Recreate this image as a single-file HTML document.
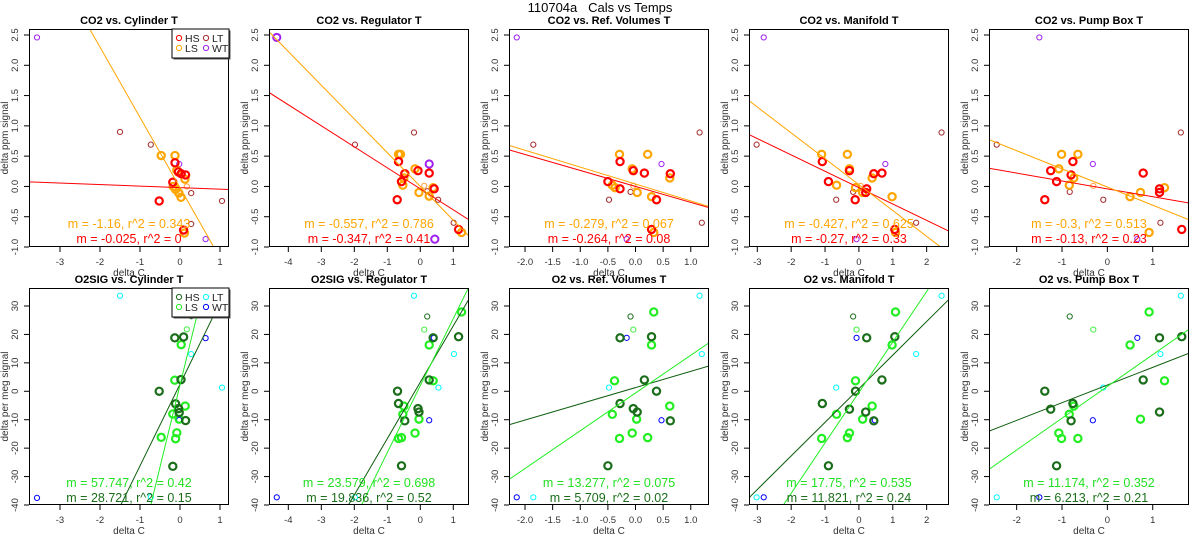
<!DOCTYPE html>
<html><head><meta charset="utf-8"><style>
html,body{margin:0;padding:0;background:#fff;overflow:hidden;width:1200px;height:550px}
svg{display:block;font-family:"Liberation Sans",Arial,sans-serif}
</style></head><body>
<svg id="chart" width="1200" height="550" viewBox="0 0 1200 550" xmlns="http://www.w3.org/2000/svg">
<text x="600" y="12" text-anchor="middle" font-size="13" style="white-space:pre" xml:space="preserve">110704a   Cals vs Temps</text>
</svg>
<script>
// ---- axis domains (x in delta C) ----
const panelTitlesTop = ["CO2 vs. Cylinder T","CO2 vs. Regulator T","CO2 vs. Ref. Volumes T","CO2 vs. Manifold T","CO2 vs. Pump Box T"];
const panelTitlesBot = ["O2SIG vs. Cylinder T","O2SIG vs. Regulator T","O2 vs. Ref. Volumes T","O2 vs. Manifold T","O2 vs. Pump Box T"];
const xDomains = [[-3.775,1.225],[-4.585,1.476],[-2.29,1.33],[-3.245,2.66],[-2.61,1.80]];
const xTicks = [[-3,-2,-1,0,1],[-4,-3,-2,-1,0,1],[-2,-1.5,-1,-0.5,0,0.5,1],[-3,-2,-1,0,1,2],[-2,-1,0,1]];
const xTickLabels = [["-3","-2","-1","0","1"],["-4","-3","-2","-1","0","1"],["-2.0","-1.5","-1.0","-0.5","0.0","0.5","1.0"],["-3","-2","-1","0","1","2"],["-2","-1","0","1"]];
const yTicksTop = [-1,-0.5,0,0.5,1,1.5,2,2.5];
const yTickLabelsTop = ["-1.0","-0.5","0.0","0.5","1.0","1.5","2.0","2.5"];
const yTicksBot = [-40,-30,-20,-10,0,10,20,30];
const yTickLabelsBot = ["-40","-30","-20","-10","0","10","20","30"];

// ---- CO2 (top row) points [deltaC, delta ppm] ----
const topHS = [
 [[-0.125,0.39],[-0.04,0.24],[0.03,0.21],[0.14,0.19],[-0.18,0.07],[-0.52,-0.24],[0.09,-0.72]],
 [[-0.66,0.41],[-0.47,0.21],[-0.07,0.26],[0.27,0.22],[-0.57,0.08],[-0.70,-0.22],[1.16,-0.71],[0.42,-0.04]],
 [[-0.28,0.41],[-0.04,0.26],[0.16,0.22],[0.63,0.21],[-0.5,0.08],[0.38,-0.22],[0.29,-0.71],[-0.28,-0.04]],
 [[-1.08,0.41],[-0.28,0.26],[0.44,0.21],[0.68,0.22],[-0.9,0.08],[-0.11,-0.22],[1.06,-0.71],[0.23,-0.04],[0.2,-0.1]],
 [[-0.76,0.41],[-1.25,0.26],[0.79,0.22],[-1.12,0.08],[-0.8,0.19],[-1.38,-0.22],[1.64,-0.71],[1.15,-0.04],[1.15,-0.1]]
];
const topLS = [
 [[-0.47,0.51],[-0.125,0.51],[-0.08,0.27],[0.125,0.12],[-0.17,0.0],[-0.11,-0.05],[-0.03,-0.11],[0.025,-0.18],[0.11,-0.77]],
 [[-0.66,0.53],[-0.6,0.53],[-0.16,0.29],[-0.5,0.14],[-0.53,0.02],[-0.04,-0.1],[0.39,-0.02],[0.27,-0.16],[1.25,-0.76]],
 [[-0.29,0.53],[0.22,0.53],[-0.06,0.29],[0.62,0.14],[-0.42,0.02],[-0.37,-0.02],[0.03,-0.1],[0.29,-0.17],[0.33,-0.76]],
 [[-1.1,0.53],[-0.34,0.53],[-0.28,0.29],[0.39,0.14],[-0.66,0.02],[-0.1,-0.02],[0.11,-0.1],[0.98,-0.17],[1.08,-0.76]],
 [[-1.01,0.53],[-0.65,0.53],[-1.07,0.29],[-0.74,0.14],[-0.84,0.02],[1.26,-0.02],[0.73,-0.1],[0.5,-0.17],[0.92,-0.76]]
];
const topLT = [
 [[-1.5,0.9],[-0.73,0.69],[0.28,-0.11],[1.05,-0.24],[0.28,-0.62]],
 [[-1.98,0.69],[-0.19,0.89],[0.54,-0.22],[1.01,-0.6],[0.21,-0.08]],
 [[-1.85,0.69],[1.16,0.89],[-0.48,-0.22],[1.2,-0.6],[-0.09,-0.09]],
 [[-3.02,0.69],[2.44,0.89],[-0.67,-0.22],[1.69,-0.6],[-0.17,-0.09]],
 [[-2.44,0.69],[1.62,0.89],[-0.09,-0.22],[1.17,-0.6],[-0.83,-0.09]]
];
const topWT = [
 [[-3.575,2.46],[-0.02,0.37],[0.64,-0.87]],
 [[-4.35,2.46],[0.27,0.37],[0.44,-0.87]],
 [[-2.15,2.46],[0.47,0.37],[-0.16,-0.87]],
 [[-2.81,2.46],[0.78,0.37],[-0.07,-0.87]],
 [[-1.5,2.46],[-0.32,0.37],[0.66,-0.87]]
];
const topExtra = [[0.17,0.0],[0.12,0.01],[-0.04,0.01],[0.05,0.01],[-0.31,0.01]];
const topSlopeHS = [-0.025,-0.347,-0.264,-0.27,-0.13];
const topIcptHS = [-0.02,-0.04,0.0,-0.02,-0.04];
const topSlopeLS = [-1.16,-0.557,-0.279,-0.427,-0.3];
const topIcptLS = [-0.02,0.0,0.04,0.03,-0.01];
const topTextLS = ["m = -1.16, r^2 = 0.343","m = -0.557, r^2 = 0.786","m = -0.279, r^2 = 0.067","m = -0.427, r^2 = 0.625","m = -0.3, r^2 = 0.513"];
const topTextHS = ["m = -0.025, r^2 = 0","m = -0.347, r^2 = 0.41","m = -0.264, r^2 = 0.08","m = -0.27, r^2 = 0.33","m = -0.13, r^2 = 0.23"];

// ---- O2 (bottom row) points [deltaC, delta per meg] ----
const botHS = [
 [[-0.13,18.8],[0.09,19.1],[0.025,4.1],[-0.52,0],[-0.11,-4.4],[-0.04,-6.1],[-0.02,-7.5],[0.14,-10.3],[-0.18,-26.4]],
 [[0.39,18.8],[1.16,19.2],[0.27,4.0],[-0.69,0.05],[-0.66,-4.3],[-0.07,-6.1],[-0.04,-7.3],[-0.47,-10.4],[-0.57,-26.2]],
 [[-0.28,18.8],[0.29,19.2],[0.16,4.0],[0.38,0.05],[-0.28,-4.3],[-0.04,-6.1],[0.03,-7.3],[0.63,-10.4],[-0.5,-26.2]],
 [[0.23,18.8],[1.06,19.2],[0.68,4.0],[-0.1,0.05],[-1.08,-4.3],[-0.28,-6.3],[0.2,-7.3],[0.44,-10.4],[-0.9,-26.2]],
 [[1.15,18.8],[1.64,19.2],[0.79,4.0],[-1.38,0.05],[-0.76,-4.3],[-1.25,-6.3],[1.15,-7.3],[-0.8,-10.4],[-1.12,-26.2]]
];
const botLS = [
 [[0.35,27.9],[0.03,16.4],[-0.13,3.9],[0.13,-5.2],[-0.18,-8.0],[-0.02,-9.8],[-0.08,-14.6],[-0.47,-16.2],[-0.11,-16.7]],
 [[1.25,27.9],[0.27,16.3],[0.39,3.7],[-0.5,-5.2],[-0.53,-8.1],[-0.04,-9.8],[-0.16,-14.7],[-0.66,-16.6],[-0.57,-16.3]],
 [[0.33,27.9],[0.29,16.3],[-0.38,3.7],[0.62,-5.2],[-0.42,-8.1],[0.02,-9.8],[-0.06,-14.7],[-0.29,-16.6],[0.22,-16.3]],
 [[1.08,27.9],[0.98,16.3],[-0.1,3.7],[0.39,-5.2],[-0.66,-8.1],[0.11,-9.8],[-0.28,-14.7],[-1.1,-16.6],[-0.34,-16.3]],
 [[0.92,27.9],[0.5,16.3],[1.26,3.7],[-0.74,-5.2],[-0.84,-8.1],[0.73,-9.8],[-1.07,-14.7],[-1.01,-16.6],[-0.65,-16.6]]
];
const botLT = [
 [[-1.5,33.6],[0.28,13.1],[1.05,1.3],[-0.73,-37.2]],
 [[-0.19,33.6],[1.02,13.1],[0.55,1.3],[-1.98,-37.3]],
 [[1.16,33.6],[1.2,13.1],[-0.48,1.3],[-1.85,-37.3]],
 [[2.44,33.6],[1.69,13.1],[-0.67,1.3],[-3.02,-37.3]],
 [[1.62,33.6],[1.17,13.1],[-0.09,1.3],[-2.44,-37.3]]
];
const botWT = [
 [[-3.575,-37.5],[0.64,18.7],[-0.02,-10.1]],
 [[-4.35,-37.3],[0.41,18.8],[0.27,-10.2]],
 [[-2.15,-37.3],[-0.16,18.8],[0.47,-10.2]],
 [[-2.81,-37.3],[-0.07,18.8],[0.47,-10.2]],
 [[-1.5,-37.3],[0.66,18.8],[-0.32,-10.2]]
];
const botExtraDk = [[0.28,26.4],[0.21,26.3],[-0.09,26.3],[-0.17,26.3],[-0.83,26.3]];
const botExtraLt = [[0.17,21.8],[0.12,21.7],[-0.04,21.7],[-0.07,21.7],[-0.31,21.7]];
const botSlopeHS = [28.721,19.836,5.709,11.821,6.213];
const botIcptHS = [2.5,3.2,1.3,0.9,2.2];
const botSlopeLS = [57.747,23.579,13.277,17.75,11.174];
const botIcptLS = [2.2,2.0,-0.6,-0.4,1.7];
const botTextLS = ["m = 57.747, r^2 = 0.42","m = 23.579, r^2 = 0.698","m = 13.277, r^2 = 0.075","m = 17.75, r^2 = 0.535","m = 11.174, r^2 = 0.352"];
const botTextHS = ["m = 28.721, r^2 = 0.15","m = 19.836, r^2 = 0.52","m = 5.709, r^2 = 0.02","m = 11.821, r^2 = 0.24","m = 6.213, r^2 = 0.21"];

const NS = "http://www.w3.org/2000/svg";
const svg = document.getElementById('chart');
function mk(tag, attrs, parent){
  const e = document.createElementNS(NS, tag);
  for (const k in attrs) e.setAttribute(k, attrs[k]);
  (parent||svg).appendChild(e);
  return e;
}
const rows = [
  {top:29,bottom:247,ylo:-1.0,yhi:2.5,yAt:[247,35],ticks:yTicksTop,tl:yTickLabelsTop,ylab:"delta ppm signal",titles:panelTitlesTop,
   HS:topHS,LS:topLS,LT:topLT,WT:topWT,sH:topSlopeHS,iH:topIcptHS,sL:topSlopeLS,iL:topIcptLS,tH:topTextHS,tL:topTextLS,
   cH:"#ff0000",cL:"#ffa500",cLT:"#a52a2a",cWT:"#a020f0",tcH:"#ff0000",tcL:"#ffa500",lcH:"#ff0000",lcL:"#ffa500",tY:[228,243],titleY:24,key:"co2"},
  {top:288,bottom:505,ylo:-40,yhi:30,yAt:[505,306],ticks:yTicksBot,tl:yTickLabelsBot,ylab:"delta per meg signal",titles:panelTitlesBot,
   HS:botHS,LS:botLS,LT:botLT,WT:botWT,sH:botSlopeHS,iH:botIcptHS,sL:botSlopeLS,iL:botIcptLS,tH:botTextHS,tL:botTextLS,
   cH:"#1a6e1a",cL:"#22ee22",cLT:"#00ffff",cWT:"#0000ff",tcH:"#1a6e1a",tcL:"#22e022",lcH:"#0d5e0d",lcL:"#22ee22",tY:[487,502],titleY:283,key:"o2"}
];
rows.forEach((R, ri) => {
  for (let c = 0; c < 5; c++) {
    const L = 29 + 240*c, Rt = 229 + 240*c, T = R.top, B = R.bottom;
    const [x0,x1] = xDomains[c];
    const sx = v => L + (v - x0) / (x1 - x0) * (Rt - L);
    const sy = v => R.yAt[0] - (v - R.ylo) / (R.yhi - R.ylo) * (R.yAt[0] - R.yAt[1]);
    const g = mk('g', {});
    
    
    const cid = 'clip' + ri + c;
    const cp = mk('clipPath', {id: cid}, g);
    mk('rect', {x:L, y:T, width:Rt-L, height:B-T}, cp);
    const tt = mk('text', {x:(L+Rt)/2, y:R.titleY, 'text-anchor':'middle','font-size':11,'font-weight':'bold'}, g);
    tt.textContent = R.titles[c];
    
    
    xTicks[c].forEach((v,i) => {
      const X = sx(v);
      mk('line', {x1:X, x2:X, y1:B, y2:B+5, stroke:'#000'}, g);
      const t = mk('text', {x:X, y:B+18, 'text-anchor':'middle','font-size':9.5,fill:'#333'}, g);
      t.textContent = xTickLabels[c][i];
      
      
    });
    const xl = mk('text', {x:(L+Rt)/2, y:B+29, 'text-anchor':'middle','font-size':10,fill:'#333'}, g);
    xl.textContent = 'delta C';
    
    
    R.ticks.forEach((v,i) => {
      const Y = sy(v);
      mk('line', {x1:L-5, x2:L, y1:Y, y2:Y, stroke:'#000'}, g);
      const t = mk('text', {x:0, y:0, 'text-anchor':'middle','font-size':9.5,fill:'#333',
        transform:'translate(' + (L-11) + ',' + Y + ') rotate(-90)'}, g);
      t.textContent = R.tl[i];
      
      
    });
    const yl = mk('text', {x:0, y:0, 'text-anchor':'middle','font-size':10,fill:'#333',
      transform:'translate(' + (L-21) + ',' + ((T+B)/2) + ') rotate(-90)'}, g);
    yl.textContent = R.ylab;
    
    
    const pts = (arr, color, r, w, name) => arr.forEach(p => {
      const e = mk('circle', {cx:sx(p[0]), cy:sy(p[1]), r:r, fill:'none', stroke:color, 'stroke-width':w, 'clip-path':'url(#'+cid+')'}, g);
      
      
    });
    pts(R.LT[c], R.cLT, 2.6, 1, 'point-lt');
    pts(R.WT[c], R.cWT, (ri===0 && c===1) ? 3.6 : 2.6, (ri===0 && c===1) ? 2 : 1, 'point-wt');
    if (ri === 0) { pts([topExtra[c]], '#ffa040', 2.6, 1, 'point-extra'); }
    else { pts([botExtraDk[c]], '#1a6e1a', 2.6, 1, 'point-extra'); pts([botExtraLt[c]], '#44ee44', 2.6, 1, 'point-extra'); }
    pts(R.LS[c], R.cL, 3.6, 2.2, 'point-ls');
    pts(R.HS[c], R.cH, 3.6, 2.2, 'point-hs');
    const line = (m, b, color, name) => {
      const e = mk('line', {x1:sx(x0), y1:sy(m*x0+b), x2:sx(x1), y2:sy(m*x1+b), stroke:color, 'stroke-width':1, 'clip-path':'url(#'+cid+')'}, g);
      
      
    };
    line(R.sH[c], R.iH[c], R.lcH, 'fit-line-hs');
    line(R.sL[c], R.iL[c], R.lcL, 'fit-line-ls');
    const a1 = mk('text', {x:(L+Rt)/2, y:R.tY[0], 'text-anchor':'middle','font-size':12.5,fill:R.tcL}, g);
    a1.textContent = R.tL[c];
    
    
    const a2 = mk('text', {x:(L+Rt)/2, y:R.tY[1], 'text-anchor':'middle','font-size':12.5,fill:R.tcH}, g);
    a2.textContent = R.tH[c];
    
    
    const fr = mk('rect', {x:L+0.5, y:T+0.5, width:Rt-L-1, height:B-T-1, fill:'none', stroke:'#000', 'stroke-width':1}, g);
    
    
    if (c === 0) {
      const lg = mk('g', {}, g);
      
      
      mk('rect', {x:Rt-57+1.5, y:T+1.5, width:57, height:29, fill:'#555', stroke:'none'}, lg);
      mk('rect', {x:Rt-57, y:T, width:57, height:29, fill:'#fff', stroke:'#000'}, lg);
      const ent = [[R.cH,'HS',0,0],[R.cLT,'LT',1,0],[R.cL,'LS',0,1],[R.cWT,'WT',1,1]];
      ent.forEach(e => {
        const ex = Rt-50 + e[2]*27, ey = T+9 + e[3]*10;
        mk('circle', {cx:ex, cy:ey, r:2.6, fill:'none', stroke:e[0], 'stroke-width':1}, lg);
        const t = mk('text', {x:ex+6, y:ey+4, 'font-size':10.5, fill:'#222'}, lg);
        t.textContent = e[1];
        
        
      });
    }
  }
});
</script>
</body></html>
